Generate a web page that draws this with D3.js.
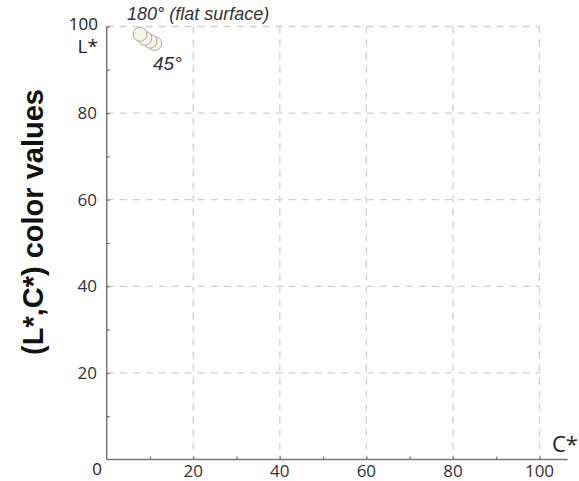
<!DOCTYPE html>
<html>
<head>
<meta charset="utf-8">
<script src="https://cdn.jsdelivr.net/npm/d3@7"></script>
<style>
  body { margin: 0; background: #fff; }
  svg { display: block; }
</style>
</head>
<body>
<script>
// C* and L* readings for the tilt angles, 180° (flat) down to 45°
const chroma = [7.7, 8.8, 10.0, 11.1];
const lightness = [98.2, 97.3, 96.6, 96.1];
const xTicks = [20, 40, 60, 80, 100];
const yTicks = [20, 40, 60, 80];

const width = 579, height = 481;
const svg = d3.select('body').append('svg')
  .attr('width', width)
  .attr('height', height);

const x = d3.scaleLinear().domain([0, 100]).range([106.7, 539.5]);
const y = d3.scaleLinear().domain([0, 100]).range([459.5, 26.5]);

const tickFont = '"Open Sans", sans-serif';
const labelFont = '"Liberation Sans", Arial, sans-serif';

// dashed grid
const grid = svg.append('g').attr('class', 'grid')
  .attr('stroke', '#cfcfcf')
  .attr('stroke-width', 1.3)
  .attr('stroke-dasharray', '7,6');

grid.selectAll('line.v')
  .data(xTicks)
  .enter().append('line')
  .attr('class', 'v')
  .attr('x1', d => x(d)).attr('x2', d => x(d))
  .attr('y1', y(100)).attr('y2', y(0));

grid.selectAll('line.h')
  .data(yTicks.concat([100]))
  .enter().append('line')
  .attr('class', 'h')
  .attr('x1', x(0)).attr('x2', x(100))
  .attr('y1', d => y(d)).attr('y2', d => y(d));

// axes, ticks pointing inward
svg.append('g')
  .attr('transform', `translate(0,${y(0)})`)
  .call(d3.axisTop(x).tickValues(d3.range(10, 101, 10)).tickSize(3).tickFormat(''))
  .call(g => g.select('.domain').attr('d', `M${x(0)},0H${x(106.5)}`).attr('stroke', '#777').attr('stroke-width', 1.5))
  .call(g => g.selectAll('.tick line').attr('stroke', '#777').attr('stroke-width', 1.3));

svg.append('g').selectAll('text')
  .data(xTicks)
  .enter().append('text')
  .attr('x', d => x(d))
  .attr('y', 477)
  .attr('text-anchor', 'middle')
  .attr('font-family', tickFont)
  .attr('font-size', 17)
  .attr('fill', '#333')
  .text(d => d);

svg.append('g')
  .attr('transform', `translate(${x(0)},0)`)
  .call(d3.axisRight(y).tickValues(d3.range(10, 101, 10)).tickSize(3).tickFormat(''))
  .call(g => g.select('.domain').attr('d', `M0,${y(0)}V${y(100)}`).attr('stroke', '#777').attr('stroke-width', 1.5))
  .call(g => g.selectAll('.tick line').attr('stroke', '#777').attr('stroke-width', 1.3));

svg.append('g').selectAll('text')
  .data(yTicks)
  .enter().append('text')
  .attr('x', 97)
  .attr('y', d => y(d) + 6)
  .attr('text-anchor', 'end')
  .attr('font-family', tickFont)
  .attr('font-size', 17)
  .attr('fill', '#333')
  .text(d => d);

svg.append('text')
  .attr('x', 98).attr('y', 30)
  .attr('text-anchor', 'end')
  .attr('font-family', tickFont)
  .attr('font-size', 17)
  .attr('fill', '#222')
  .text('100');

svg.append('text')
  .attr('x', 102).attr('y', 475)
  .attr('text-anchor', 'end')
  .attr('font-family', tickFont)
  .attr('font-size', 17)
  .attr('fill', '#222')
  .text('0');

// axis end labels
svg.append('text')
  .attr('x', 98).attr('y', 53)
  .attr('text-anchor', 'end')
  .attr('font-family', tickFont)
  .attr('font-size', 19)
  .attr('fill', '#222')
  .text('L*');

svg.append('text')
  .attr('x', 552).attr('y', 452)
  .attr('font-family', tickFont)
  .attr('font-size', 22)
  .attr('fill', '#222')
  .text('C*');

// y title
svg.append('text')
  .attr('transform', 'translate(43,222) rotate(-90)')
  .attr('text-anchor', 'middle')
  .attr('font-family', labelFont)
  .attr('font-weight', 'bold')
  .attr('font-size', 29)
  .attr('fill', '#111')
  .text('(L*,C*) color values');

// points, drawn last-to-first so the flat-surface disc sits on top
svg.append('g').selectAll('circle')
  .data(d3.range(chroma.length).reverse())
  .enter().append('circle')
  .attr('cx', i => x(chroma[i]))
  .attr('cy', i => y(lightness[i]))
  .attr('r', 7)
  .attr('fill', '#f6f4e6')
  .attr('stroke', '#a9a9a0')
  .attr('stroke-width', 1);

// annotations
svg.append('text')
  .attr('x', 127).attr('y', 20)
  .attr('font-family', labelFont)
  .attr('font-style', 'italic')
  .attr('font-size', 18)
  .attr('fill', '#333')
  .text('180° (flat surface)');

svg.append('text')
  .attr('x', 153).attr('y', 70)
  .attr('font-family', labelFont)
  .attr('font-style', 'italic')
  .attr('font-size', 19)
  .attr('fill', '#333')
  .text('45°');
</script>
</body>
</html>
